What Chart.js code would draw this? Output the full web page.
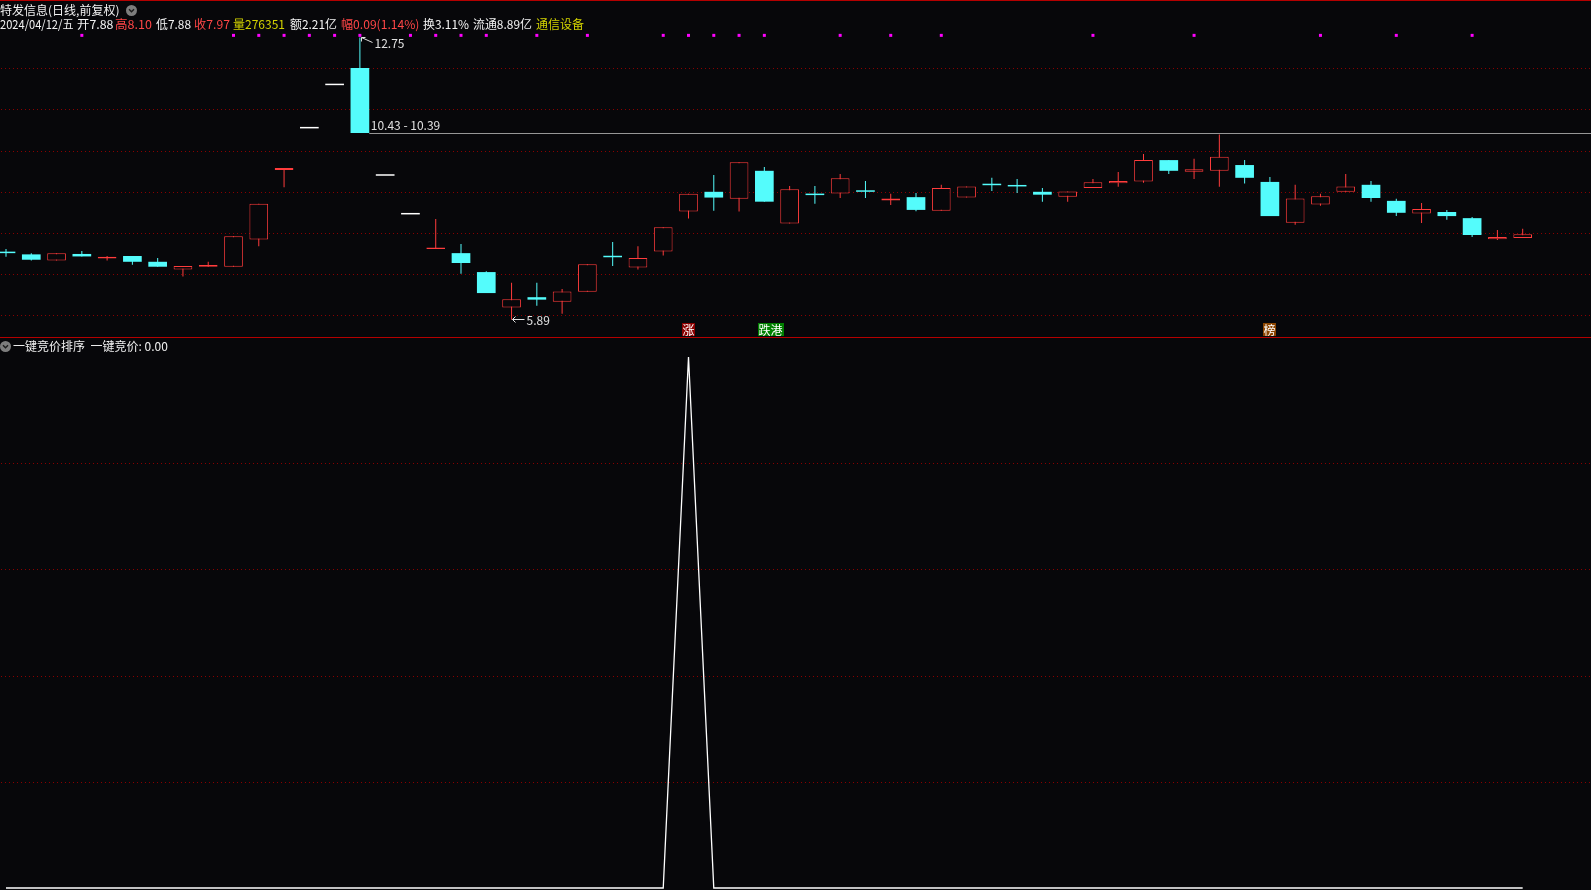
<!DOCTYPE html>
<html>
<head>
<meta charset="utf-8">
<script src="https://cdn.jsdelivr.net/npm/chart.js@4.4.1/dist/chart.umd.min.js"></script>
<style>
  body { margin: 0; background: #07070a; }
  #wrap { position: relative; width: 1591px; height: 890px; overflow: hidden; background: #07070a;
          font-family: "Noto Sans CJK SC", sans-serif; font-size: 12px; color: #f2f2f2; }
  canvas { position: absolute; left: 0; }
  .t { position: absolute; white-space: nowrap; line-height: 14px; transform-origin: 0 50%; }
  .r { color: #ff4646; }
  .y { color: #d2d200; }
  .hl { position: absolute; left: 0; width: 1591px; height: 1px; background: #b40000; }
</style>
</head>
<body>
<div id="wrap">
  <canvas id="kline" width="1591" height="337" style="top:0"></canvas>
  <canvas id="ind" width="1591" height="552" style="top:338px"></canvas>
  <div class="hl" style="top:0"></div>
  <div class="hl" style="top:337px"></div>

  <!-- 主图标题 -->
  <div class="t" style="left:0;top:3px">特发信息(日线,前复权)</div>
  <svg width="11" height="11" style="position:absolute;left:126px;top:5px"><circle cx="5.5" cy="5.5" r="5.5" fill="#7d7d7d"/><polyline points="3,4.3 5.5,6.8 8,4.3" fill="none" stroke="#1c1c1c" stroke-width="1.4"/></svg>
  <div class="t fit" data-w="73.5" style="left:0;top:17px">2024/04/12/五</div>
  <div class="t fit" data-w="36.5" style="left:76.5px;top:17px">开7.88</div>
  <div class="t r fit" data-w="37" style="left:115px;top:17px">高8.10</div>
  <div class="t fit" data-w="35" style="left:156px;top:17px">低7.88</div>
  <div class="t r fit" data-w="36" style="left:194px;top:17px">收7.97</div>
  <div class="t y fit" data-w="52" style="left:233px;top:17px">量276351</div>
  <div class="t fit" data-w="47" style="left:290px;top:17px">额2.21亿</div>
  <div class="t r fit" data-w="78.4" style="left:340.5px;top:17px">幅0.09(1.14%)</div>
  <div class="t fit" data-w="46" style="left:423px;top:17px">换3.11%</div>
  <div class="t fit" data-w="59" style="left:473px;top:17px">流通8.89亿</div>
  <div class="t y fit" data-w="48" style="left:536px;top:17px">通信设备</div>

  <!-- 副图标题 -->
  <svg width="11" height="11" style="position:absolute;left:0;top:341px"><circle cx="5.5" cy="5.5" r="5.5" fill="#7d7d7d"/><polyline points="3,4.3 5.5,6.8 8,4.3" fill="none" stroke="#1c1c1c" stroke-width="1.4"/></svg>
  <div class="t" style="left:13px;top:339px">一键竞价排序</div>
  <div class="t" style="left:90.5px;top:339px">一键竞价: 0.00</div>
</div>

<script>
// K线数据 (共61根，从左到右)
const days = Array.from({ length: 61 }, (_, i) => i);

const opens = [7.51, 7.48, 7.33, 7.49, 7.38, 7.44, 7.30, 7.11, 7.18, 7.18,
  7.84, 9.53, 10.54, 11.59, 12.01, 9.39, 8.45, 7.61, 7.51, 7.05,
  6.19, 6.44, 6.33, 6.57, 7.44, 7.16, 7.55, 8.52, 9.00, 8.83,
  9.51, 8.23, 8.92, 8.96, 9.00, 8.79, 8.87, 8.54, 8.86, 9.16,
  9.13, 9.00, 8.88, 9.09, 9.21, 9.25, 9.77, 9.49, 9.51, 9.65,
  9.24, 8.25, 8.69, 9.00, 9.17, 8.78, 8.47, 8.51, 8.36, 7.85,
  7.88];
const highs = [7.61, 7.51, 7.51, 7.56, 7.44, 7.44, 7.39, 7.20, 7.30, 7.92,
  8.71, 9.58, 10.54, 11.59, 12.75, 9.39, 8.45, 8.34, 7.73, 7.07,
  6.79, 6.79, 6.64, 7.24, 7.78, 7.68, 8.14, 8.95, 9.41, 9.72,
  9.60, 9.14, 9.14, 9.43, 9.26, 8.95, 8.97, 9.17, 9.13, 9.34,
  9.31, 9.09, 9.01, 9.31, 9.48, 9.92, 9.77, 9.80, 10.39, 9.77,
  9.36, 9.17, 8.95, 9.43, 9.26, 8.83, 8.73, 8.56, 8.39, 8.07,
  8.10];
const lows = [7.42, 7.33, 7.33, 7.43, 7.33, 7.23, 7.18, 6.94, 7.18, 7.18,
  7.68, 9.11, 10.54, 11.59, 10.43, 9.39, 8.45, 7.61, 7.01, 6.54,
  5.89, 6.23, 6.04, 6.57, 7.20, 7.11, 7.45, 8.35, 8.54, 8.52,
  8.76, 8.23, 8.71, 8.85, 8.85, 8.68, 8.53, 8.54, 8.86, 9.02,
  8.97, 8.76, 8.76, 9.09, 9.12, 9.22, 9.43, 9.31, 9.12, 9.20,
  8.41, 8.20, 8.66, 9.00, 8.76, 8.41, 8.24, 8.32, 7.90, 7.83,
  7.88];
const closes = [7.51, 7.35, 7.51, 7.43, 7.42, 7.30, 7.18, 7.20, 7.22, 7.92,
  8.71, 9.58, 10.54, 11.59, 10.43, 9.39, 8.45, 7.65, 7.27, 6.54,
  6.39, 6.38, 6.58, 7.24, 7.41, 7.39, 8.14, 8.95, 8.86, 9.72,
  8.76, 9.06, 8.92, 9.33, 9.00, 8.84, 8.56, 9.09, 9.13, 9.16,
  9.13, 8.93, 9.01, 9.23, 9.26, 9.77, 9.51, 9.55, 9.85, 9.34,
  8.41, 8.84, 8.89, 9.13, 8.85, 8.49, 8.58, 8.41, 7.95, 7.90,
  7.97];

// 价格刻度 (红色点线)
const priceTicks = [6, 7, 8, 9, 10, 11, 12];

// 顶部紫色信号点
const signalDays = [3, 9, 10, 11, 12, 13, 14, 16, 17, 18, 19, 21, 23, 26, 27, 28, 29, 30,
  33, 35, 37, 43, 47, 52, 55, 58];
const signalLevel = 12.8;

// 缺口 10.43 - 10.39
const gapDay = 14;
const gapRange = [10.43, 10.39];

// 最高/最低标注
const highDay = 14, highPrice = 12.75;
const lowDay = 20, lowPrice = 5.89;

// 底部文字标记
const markDays = [27, 30, 50];
const markTexts = ['涨', '跌港', '榜'];
const markColors = ['#8b0000', '#008000', '#8b4500'];

// 副图: 一键竞价
const indValues = [0, 0, 0, 0, 0, 0, 0, 0, 0, 0,
  0, 0, 0, 0, 0, 0, 0, 0, 0, 0,
  0, 0, 0, 0, 0, 0, 0, 1, 0, 0,
  0, 0, 0, 0, 0, 0, 0, 0, 0, 0,
  0, 0, 0, 0, 0, 0, 0, 0, 0, 0,
  0, 0, 0, 0, 0, 0, 0, 0, 0, 0,
  0];
const indTicks = [0.2, 0.4, 0.6, 0.8];

const RED = '#ff3c3c', CYAN = '#54fcfc', WHITE = '#ffffff', BG = '#07070a', GRID = '#8a0000';
const BODY_W = 18.7;

// 标题文字按原图宽度压缩
document.querySelectorAll('.fit').forEach(el => {
  const w = el.getBoundingClientRect().width;
  el.style.transform = 'scaleX(' + (parseFloat(el.dataset.w) / w) + ')';
});

function candleColor(i) {
  if (highs[i] === lows[i]) return WHITE;
  return closes[i] > opens[i] ? RED : CYAN;
}

const wickData = days.map(i => ({ x: i, y: [lows[i], highs[i]] }));
const bodyData = days.map(i => ({ x: i, y: [opens[i], closes[i]] }));
const colors = days.map(candleColor);

function dottedLine(ctx, py, right) {
  for (let px = 1; px < right; px += 4) ctx.fillRect(px, py, 1, 1);
}

const xRange = { min: -0.2374, max: 62.703 };

// 主图装饰: 网格、缺口、高低点、标记
const klineDecor = {
  id: 'klineDecor',
  beforeDatasetsDraw(chart) {
    const { ctx, chartArea, scales: { x, y } } = chart;
    ctx.save();
    ctx.fillStyle = GRID;
    priceTicks.forEach(p => dottedLine(ctx, Math.round(y.getPixelForValue(p)), chartArea.right));
    const gx = x.getPixelForValue(gapDay) + BODY_W / 2;
    const gy = Math.round(y.getPixelForValue(gapRange[0]));
    ctx.fillStyle = '#969696';
    ctx.fillRect(gx, gy, chartArea.right - gx, 1);
    ctx.font = '12px "Noto Sans CJK SC"';
    ctx.fillStyle = '#e0e0e0';
    ctx.textBaseline = 'alphabetic';
    ctx.fillText(gapRange[0].toFixed(2) + ' - ' + gapRange[1].toFixed(2), gx + 1.5, gy - 3);
    ctx.restore();
  },
  afterDatasetsDraw(chart) {
    const { ctx, chartArea, scales: { x, y } } = chart;
    ctx.save();
    ctx.strokeStyle = '#e0e0e0';
    ctx.fillStyle = '#e0e0e0';
    ctx.lineWidth = 1;
    ctx.font = '12px "Noto Sans CJK SC"';
    // 最高价
    const hx = Math.round(x.getPixelForValue(highDay)) + 0.5, hy = Math.round(y.getPixelForValue(highPrice)) + 0.5;
    ctx.beginPath();
    ctx.moveTo(hx + 1, hy);
    ctx.lineTo(hx + 12, hy + 5);
    ctx.moveTo(hx + 1, hy + 4);
    ctx.lineTo(hx + 1, hy);
    ctx.lineTo(hx + 5, hy);
    ctx.stroke();
    ctx.fillText(highPrice.toFixed(2), hx + 14, hy + 10);
    // 最低价
    const lx = Math.round(x.getPixelForValue(lowDay)) + 0.5, ly = Math.round(y.getPixelForValue(lowPrice)) - 0.5;
    ctx.beginPath();
    ctx.moveTo(lx, ly);
    ctx.lineTo(lx + 12, ly);
    ctx.moveTo(lx + 3, ly - 3);
    ctx.lineTo(lx, ly);
    ctx.lineTo(lx + 3, ly + 3);
    ctx.stroke();
    ctx.fillText(lowPrice.toFixed(2), lx + 14, ly + 5);
    // 底部标记
    ctx.textBaseline = 'middle';
    markDays.forEach((d, k) => {
      const left = Math.round(x.getPixelForValue(d) - 6.5);
      const w = 13 * markTexts[k].length;
      const top = chartArea.bottom - 14;
      ctx.fillStyle = markColors[k];
      ctx.fillRect(left, top, w, 13);
      ctx.fillStyle = '#ffffff';
      ctx.fillText(markTexts[k], left + 0.5, top + 7);
    });
    ctx.restore();
  }
};

new Chart(document.getElementById('kline'), {
  type: 'bar',
  data: {
    datasets: [
      {
        type: 'bar', data: wickData, backgroundColor: colors, borderWidth: 0,
        barThickness: 1, grouped: false, inflateAmount: 0, order: 2
      },
      {
        type: 'bar', data: bodyData,
        backgroundColor: colors.map(c => c === RED ? BG : c),
        borderColor: colors, borderWidth: colors.map(c => c === RED ? 1 : 0),
        borderSkipped: false, barThickness: BODY_W, minBarLength: 1.5, inflateAmount: 0,
        grouped: false, order: 1
      },
      {
        type: 'scatter', data: signalDays.map(d => ({ x: d, y: signalLevel })),
        backgroundColor: '#ff00ff', borderWidth: 0, pointStyle: 'rect', pointRadius: 2.12, order: 0
      }
    ]
  },
  options: {
    responsive: false,
    animation: false,
    devicePixelRatio: 1,
    layout: { padding: 0, autoPadding: false },
    plugins: { legend: { display: false }, tooltip: { enabled: false } },
    scales: {
      x: { type: 'linear', min: xRange.min, max: xRange.max, display: false, offset: false },
      y: { min: 5.473, max: 13.659, display: false }
    }
  },
  plugins: [klineDecor]
});

// 副图网格
const indGrid = {
  id: 'indGrid',
  beforeDatasetsDraw(chart) {
    const { ctx, chartArea, scales: { y } } = chart;
    ctx.save();
    ctx.fillStyle = GRID;
    indTicks.forEach(v => dottedLine(ctx, Math.round(y.getPixelForValue(v)), chartArea.right));
    ctx.restore();
  }
};

new Chart(document.getElementById('ind'), {
  type: 'line',
  data: {
    datasets: [{
      data: days.map(i => ({ x: i, y: indValues[i] })),
      borderColor: '#ffffff', borderWidth: 1.3, pointRadius: 0, tension: 0, fill: false
    }]
  },
  options: {
    responsive: false,
    animation: false,
    devicePixelRatio: 1,
    layout: { padding: 0, autoPadding: false },
    plugins: { legend: { display: false }, tooltip: { enabled: false } },
    scales: {
      x: { type: 'linear', min: xRange.min, max: xRange.max, display: false, offset: false },
      y: { min: -0.00377, max: 1.03578, display: false }
    }
  },
  plugins: [indGrid]
});
</script>
</body>
</html>
